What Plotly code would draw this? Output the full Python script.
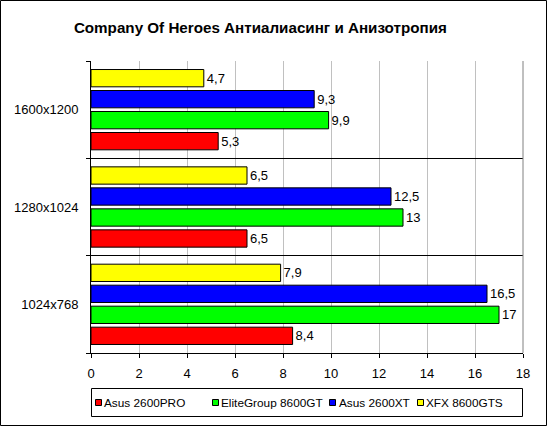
import plotly.graph_objects as go

categories = ["1024x768", "1280x1024", "1600x1200"]
series_names = ["Asus 2600PRO", "EliteGroup 8600GT", "Asus 2600XT", "XFX 8600GTS"]
asus_2600pro = [8.4, 6.5, 5.3]
elitegroup_8600gt = [17, 13, 9.9]
asus_2600xt = [16.5, 12.5, 9.3]
xfx_8600gts = [7.9, 6.5, 4.7]
colors = ["#ff0000", "#00ff00", "#0000ff", "#ffff00"]
x_ticks = [0, 2, 4, 6, 8, 10, 12, 14, 16, 18]

series_values = [asus_2600pro, elitegroup_8600gt, asus_2600xt, xfx_8600gts]


def fmt(v):
    return ("%g" % v).replace(".", ",")


W, H = 547, 426
ML, MR, MT, MB = 91, 24, 61, 73
PW, PH = W - ML - MR, H - MT - MB


def px_x(p):
    return (p - ML) / PW


def px_y(p):
    return (H - MB - p) / PH


fig = go.Figure()
for name, vals, col in zip(series_names, series_values, colors):
    fig.add_trace(go.Bar(
        y=categories, x=vals, name=name, orientation="h",
        marker=dict(color=col, line=dict(color="black", width=1)),
        text=[fmt(v) for v in vals], textposition="outside",
        textfont=dict(family="Arial, Liberation Sans", size=13, color="black"),
        constraintext="none", cliponaxis=False, showlegend=False,
    ))

fig.update_layout(
    width=W, height=H,
    margin=dict(l=ML, r=MR, t=MT, b=MB, pad=0, autoexpand=False),
    paper_bgcolor="white", plot_bgcolor="white",
    barmode="group", bargap=0.137, bargroupgap=0.176,
    font=dict(family="Arial, Liberation Sans", size=13, color="black"),
    title=dict(text="<b>Company Of Heroes Антиалиасинг и Анизотропия</b>",
               font=dict(size=15.2, color="black"),
               x=0.476, xanchor="center", y=1 - 28 / H, yanchor="middle"),
    xaxis=dict(range=[0, 18], tickvals=x_ticks, showgrid=True, gridcolor="#c0c0c0",
               gridwidth=1, showline=True, linecolor="black", linewidth=1,
               ticks="outside", ticklen=4, tickcolor="black", zeroline=False,
               tickfont=dict(size=13), ticklabelstandoff=4),
    yaxis=dict(type="category", tickson="boundaries", showgrid=True, gridcolor="black",
               gridwidth=1, showline=True, linecolor="black", linewidth=1,
               ticks="outside", ticklen=4, tickcolor="black",
               ticklabelstandoff=9, tickfont=dict(size=13)),
    showlegend=False,
)

# outer frame of the chart
fig.add_shape(type="rect", xref="paper", yref="paper",
              x0=px_x(0.5), x1=px_x(W - 0.5), y0=px_y(H - 0.5), y1=px_y(0.5),
              line=dict(color="black", width=1), fillcolor="rgba(0,0,0,0)", layer="below")
# right border of plot area
fig.add_shape(type="line", xref="paper", yref="paper", x0=1, x1=1, y0=0, y1=1,
              line=dict(color="#808080", width=1))

# legend (box, colour keys, labels)
fig.add_shape(type="rect", xref="paper", yref="paper",
              x0=px_x(91.5), x1=px_x(522.5), y0=px_y(416.5), y1=px_y(388.5),
              line=dict(color="black", width=1), fillcolor="white")
key_x = [95, 212, 329, 417]
text_x = [104, 221, 339, 426]
for name, col, kx, tx in zip(series_names, colors, key_x, text_x):
    fig.add_shape(type="rect", xref="paper", yref="paper",
                  x0=px_x(kx + 0.5), x1=px_x(kx + 6.5), y0=px_y(405.5), y1=px_y(399.5),
                  line=dict(color="black", width=1), fillcolor=col)
    fig.add_annotation(text=name, xref="paper", yref="paper", x=px_x(tx - 1),
                       y=px_y(402.5), xanchor="left", yanchor="middle",
                       showarrow=False, borderpad=0,
                       font=dict(size=11.8, color="black"))

fig.write_html("out.html")
